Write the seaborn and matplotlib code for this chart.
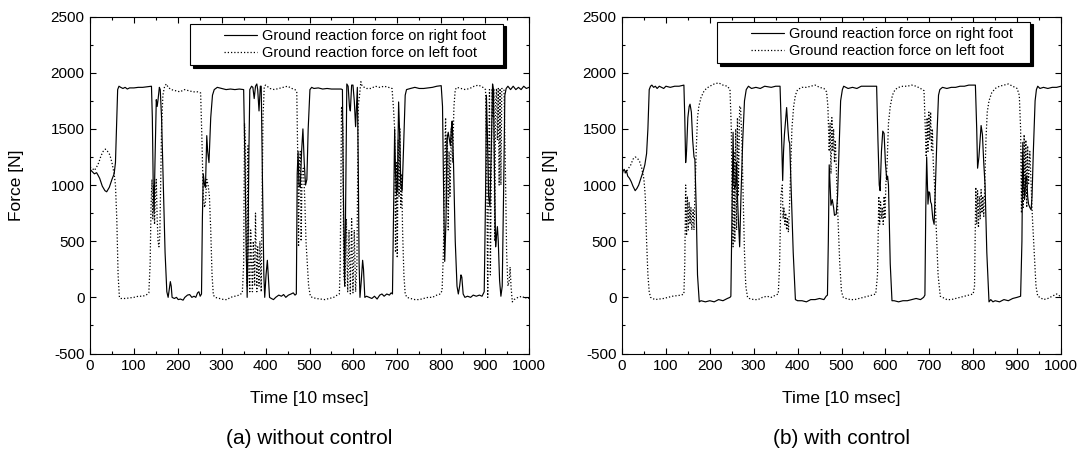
import numpy as np
import pandas as pd
import matplotlib
matplotlib.use("Agg")
import matplotlib.pyplot as plt
from matplotlib.lines import Line2D
from matplotlib.legend_handler import HandlerLine2D
from matplotlib.ticker import MultipleLocator
import seaborn as sns

# ---------------- data ----------------
# (a) without control - right foot (solid)
a_right_t = [0, 5, 10, 15, 18, 22, 28, 34, 38, 44, 50, 55, 58, 61, 63, 66, 70, 75, 80, 85, 90, 100, 110, 120, 130, 140,
             142, 144, 146, 148, 151, 153, 155, 158, 160, 163, 167, 171, 175, 178, 181, 183, 185, 187, 192, 197, 201,
             206, 212, 216, 222, 227, 232, 237, 241, 245, 248, 251, 254, 256, 258, 261, 263, 266, 268, 271, 275, 279,
             283, 290, 300, 310, 320, 330, 340, 350, 353, 356, 358, 360, 362, 364, 368, 371, 374, 377, 380, 382, 385,
             388, 390, 393, 396, 398, 401, 404, 406, 409, 413, 418, 423, 430, 436, 441, 446, 452, 458, 463, 467, 470,
             472, 474, 476, 479, 482, 485, 488, 491, 494, 497, 501, 505, 510, 520, 530, 540, 550, 560, 572, 575, 577,
             580, 582, 585, 588, 591, 593, 596, 599, 602, 605, 607, 609, 611, 613, 615, 618, 621, 623, 626, 630, 636,
             642, 648, 654, 660, 665, 670, 676, 682, 686, 689, 691, 694, 696, 698, 700, 703, 705, 708, 711, 714, 718,
             721, 730, 740, 750, 760, 770, 780, 790, 800, 803, 806, 808, 811, 813, 816, 819, 821, 823, 825, 828, 832,
             836, 839, 842, 845, 847, 850, 854, 860, 867, 873, 880, 887, 893, 898, 901, 903, 905, 908, 911, 914, 917,
             919, 922, 924, 926, 928, 930, 933, 936, 939, 942, 945, 948, 952, 958, 964, 970, 976, 982, 988, 994, 1000]
a_right_f = [1140, 1120, 1100, 1110, 1090, 1060, 990, 950, 940, 980, 1050, 1100, 1200, 1600, 1850, 1880, 1870, 1860,
             1870, 1855, 1865, 1865, 1870, 1870, 1875, 1880,
             1600, 1000, 760, 1200, 1760, 1700, 1760, 1870, 1850, 1600, 1000, 400, 50, 0, 80, 140, 100, 0, -10, 0, -20,
             -15, -25, 0, 20, 25, 0, 10, 0, 40, 50, 10, 30, 700, 1100, 1000, 980, 1440, 1300, 1200, 1600, 1800,
             1850, 1870, 1860, 1850, 1855, 1850, 1855, 1850, 1200, 400, 0, 500, 1300, 1850, 1880, 1870, 1770, 1880,
             1900, 1850, 1660,
             1880, 1880, 1000, 200, 0, 200, 330, 200, 0, -10, -20, 0, 20, 10, 25, 0, 20, 30, 40, 20, 30,
             1100, 1300, 1000, 980, 1300, 1500, 1200, 1000, 1050, 1500, 1850, 1870, 1860, 1865, 1855, 1860, 1855, 1855,
             1855, 1850, 1000,
             100, 700, 1900, 1880, 1700, 1660, 1890, 1890, 1750, 1520, 1700, 1870, 1200, 300, 0, 150, 330, 250, 0, 10,
             0,
             -10, 10, -15, 20, 30, 10, 30, 20, 40, 30, 600, 1500, 1100, 920, 950, 1740, 1500, 1000, 950, 1300, 1800,
             1850, 1860, 1870, 1860, 1860, 1865, 1870, 1880, 1885, 1700, 800, 320, 700, 1400, 1470, 1400, 1350, 1500,
             1570, 1200, 500,
             100, 30, 100, 200, 180, 30, 0, 10, 0, 20, 10, 20, 10, 50, 900, 1800, 1500, 900, 810, 1300, 1900,
             1850, 900, 450, 550, 630, 500, 150, 10, 100, 900, 1800, 1860, 1880, 1850, 1880, 1850, 1870, 1850, 1880,
             1860, 1870]

# (a) without control - left foot (dotted)
a_left_t = [0, 5, 10, 15, 20, 25, 30, 35, 40, 45, 50, 55, 58, 61, 64, 67, 70, 80, 90, 100, 110, 120, 128, 134, 137, 139,
            141, 143, 145, 147, 149, 151, 153, 155, 157, 159, 161, 163, 166, 170, 174, 178, 185, 195, 205, 215, 225,
            235, 245, 252, 255, 258, 261, 263, 266, 269, 272, 275, 278, 281, 285, 295, 305, 312, 320, 330, 340, 347,
            350, 352, 354, 356, 358, 360, 362, 364, 366, 368, 370, 372, 375, 377, 380, 382, 385, 387, 390, 392, 394,
            397, 400, 410, 420, 430, 440, 450, 460, 467, 471, 473, 475, 477, 479, 481, 483, 486, 489, 492, 495, 498,
            502, 506, 515, 525, 535, 545, 555, 563, 568, 570, 573, 576, 578, 581, 584, 587, 590, 593, 596, 599, 602,
            605, 608, 611, 614, 617, 620, 630, 640, 650, 660, 670, 680, 688, 691, 694, 696, 698, 700, 702, 704, 706,
            708, 710, 712, 715, 718, 722, 730, 740, 750, 760, 770, 780, 790, 798, 802, 805, 808, 810, 812, 814, 816,
            818, 820, 823, 826, 829, 832, 836, 845, 855, 865, 875, 885, 895, 901, 904, 906, 908, 910, 912, 914, 916,
            918, 920, 922, 924, 926, 928, 930, 932, 934, 936, 938, 940, 943, 946, 949, 952, 955, 957, 959, 962, 966,
            975, 985, 990, 995, 1000]
a_left_f = [1160, 1150, 1130, 1160, 1200, 1260, 1300, 1320, 1300, 1270, 1200, 1100, 1000, 700, 200, 0, -10, -10, -5, 0,
            10, 10, 20, 40, 300, 800,
            1050, 700, 1000, 650, 900, 1050, 700, 500, 450, 550, 1000, 1500, 1800, 1880, 1900, 1870, 1850, 1840, 1830,
            1850, 1840,
            1830, 1830, 1820, 1400, 900, 800, 850, 1050, 1000, 900, 600, 200, 20, 0, -10, -20, -20, 0, 10, 20, 40,
            300, 1550, 1400, 400, 100, 1350, 200, 50, 600, 300, 50, 500, 100, 750, 50, 450, 100, 500, 50, 800, 1600,
            1880, 1890, 1860, 1850, 1860, 1870, 1880, 1860, 1850, 1830, 1300, 450, 1200, 1300, 500, 1100, 1150, 900,
            500, 300, 100,
            10, 0, -10, -15, -20, -10, 0, 20, 30, 300, 1700, 1500, 200, 100, 700, 50, 600, 30, 700, 40, 600,
            50, 300, 1700, 1800, 1920, 1880, 1860, 1860, 1880, 1870, 1880, 1870, 1860, 1700, 1500, 400, 1200, 350,
            1400, 900, 1500,
            800, 1100, 600, 200, 30, 0, -10, -20, -20, -10, 0, 0, 20, 30, 60, 400, 1200, 1600, 800, 1450, 600,
            1300, 900, 1500, 1200, 1700, 1850, 1870, 1860, 1850, 1860, 1880, 1890, 1870, 1850, 1000, 0, 1200, 1850,
            200, 1000, 1860,
            1600, 1860, 500, 1750, 1860, 1400, 1860, 1000, 1860, 1000, 1860, 1860, 1850, 1200, 400, 100, 150, 270,
            100, -40, -20,
            0, 10, -10, 0, -10]

# (b) with control - right foot (solid)
b_right_t = [0, 3, 5, 8, 10, 13, 17, 21, 25, 30, 34, 38, 43, 48, 52, 56, 59, 62, 65, 68, 72, 76, 80, 85, 90, 95, 100, 110,
             120, 130, 141, 143, 145, 147, 150, 153, 155, 158, 161, 164, 166, 169, 172, 176, 180, 190, 200, 210, 220,
             230, 240, 246, 248, 250, 253, 255, 257, 259, 261, 263, 265, 268, 271, 275, 279, 283, 288, 295, 305, 315,
             325, 340, 350, 360, 363, 366, 368, 370, 373, 375, 378, 380, 382, 385, 390, 395, 400, 410, 420, 430, 440,
             450, 460, 465, 468, 470, 472, 474, 476, 479, 482, 484, 488, 491, 495, 498, 502, 505, 515, 525, 535, 545,
             560, 575, 580, 583, 586, 588, 591, 594, 597, 600, 603, 605, 607, 611, 615, 620, 630, 640, 650, 660, 670,
             680, 687, 690, 692, 694, 697, 699, 701, 703, 705, 708, 711, 714, 718, 721, 724, 730, 740, 750, 760, 770,
             780, 790, 805, 808, 810, 813, 816, 818, 821, 824, 827, 831, 836, 840, 845, 850, 860, 870, 880, 890, 900,
             908, 911, 913, 915, 917, 920, 922, 924, 926, 929, 932, 934, 937, 941, 944, 947, 952, 960, 970, 980, 990,
             1000]
b_right_f = [1100, 1130, 1140, 1110, 1130, 1080, 1060, 1030, 990, 950, 970, 1000, 1060, 1120, 1180, 1280, 1500, 1850,
             1880, 1890, 1870, 1880, 1860, 1880, 1870, 1860, 1880, 1870,
             1880, 1880, 1890, 1600, 1200, 1300, 1600, 1700, 1720, 1650, 1400, 1250, 1230, 800, 200, -40, -30, -40,
             -30, -40, -20,
             -30, -10, 0, 10, 600, 1470, 1000, 970, 1000, 1200, 900, 700, 450, 900, 1400, 1750, 1850, 1880, 1860,
             1870, 1860,
             1880, 1870, 1880, 1880, 1500, 1040, 1300, 1450, 1600, 1690, 1500, 1400, 1370, 1000, 400, -20, -30, -30,
             -40, -20, -20,
             -10, -20, 10, 20, 500, 1180, 1000, 820, 870, 800, 730, 740, 900, 1400, 1750, 1850, 1880, 1860, 1870,
             1860, 1880,
             1880, 1880, 1880, 1400, 1000, 950, 1300, 1480, 1460, 1200, 1050, 1080, 1000, 300, -30, -30, -40, -30,
             -30, -20, -10,
             -20, 0, 20, 800, 1250, 830, 940, 930, 850, 830, 700, 650, 1000, 1500, 1800, 1850, 1870, 1860, 1870,
             1870, 1880,
             1880, 1890, 1890, 1500, 1150, 1250, 1420, 1530, 1450, 1200, 1000, 400, -40, -20, -40, -30, -40, -20,
             -30, -10, 0,
             10, 500, 1380, 1000, 870, 1080, 1080, 900, 830, 800, 780, 900, 1300, 1750, 1850, 1880, 1860, 1870, 1860,
             1870, 1870,
             1880]

# (b) with control - left foot (dotted)
b_left_t = [0, 5, 10, 15, 20, 25, 30, 35, 40, 45, 50, 53, 56, 59, 62, 65, 70, 75, 85, 95, 105, 115, 125, 135, 141, 143,
            145, 147, 149, 151, 153, 155, 157, 159, 162, 164, 166, 169, 172, 175, 180, 186, 192, 200, 210, 220, 230,
            240, 246, 249, 251, 253, 255, 257, 259, 261, 263, 265, 268, 270, 273, 276, 279, 282, 286, 290, 300, 310,
            320, 330, 340, 350, 356, 359, 362, 365, 367, 369, 371, 373, 375, 377, 379, 381, 384, 387, 391, 395, 400,
            410, 420, 430, 440, 450, 460, 466, 469, 472, 474, 476, 478, 480, 482, 484, 486, 489, 492, 496, 500, 504,
            510, 520, 530, 540, 550, 560, 570, 578, 582, 585, 587, 589, 591, 593, 595, 597, 599, 601, 604, 607, 611,
            616, 622, 630, 640, 650, 660, 670, 680, 688, 691, 693, 695, 697, 699, 701, 703, 705, 707, 709, 712, 716,
            720, 725, 730, 740, 750, 760, 770, 780, 790, 800, 803, 806, 808, 810, 812, 814, 816, 818, 820, 822, 824,
            826, 829, 832, 836, 842, 850, 860, 870, 880, 890, 900, 905, 908, 910, 912, 914, 916, 918, 920, 922, 924,
            926, 929, 932, 935, 939, 943, 947, 952, 960, 970, 980, 990, 995, 1000]
b_left_f = [1110, 1100, 1120, 1150, 1180, 1230, 1250, 1240, 1210, 1150, 1050, 900, 500, 200, 50, 0, -10, -20, -15, -10,
            0, 10, 15, 20, 30, 300,
            1000, 550, 900, 600, 850, 650, 800, 600, 780, 600, 900, 1300, 1600, 1700, 1780, 1830, 1860, 1880, 1900,
            1910, 1890,
            1880, 1850, 1500, 800, 450, 1300, 500, 1500, 600, 1600, 900, 1700, 1700, 1400, 900, 400, 100, 0, -10, -20,
            -20,
            0, 10, 0, 20, 30, 300, 900, 1000, 700, 800, 650, 750, 600, 700, 580, 750, 1100, 1500, 1700, 1800, 1850,
            1870, 1870, 1880, 1890, 1870, 1860, 1830, 1700, 1300, 1550, 1100, 1600, 1300, 1500, 1200, 1400, 1050,
            700, 300, 50, 0,
            -10, -20, -20, -10, 0, 10, 20, 30, 200, 900, 650, 850, 700, 800, 650, 900, 700, 1000, 1200, 1550, 1700,
            1800, 1850, 1870, 1880, 1880, 1890, 1880, 1860, 1840, 1500, 1250, 1600, 1300, 1650, 1400, 1650, 1300,
            1500, 1200, 1000, 600,
            200, 10, 0, -20, -20, -10, 0, 10, 20, 30, 100, 980, 650, 950, 620, 900, 700, 960, 750, 900, 720,
            950, 1400, 1650, 1750, 1820, 1860, 1880, 1890, 1900, 1880, 1860, 1800, 1500, 750, 1300, 800, 1450, 900,
            1400, 800, 1350,
            1000, 1300, 1000, 700, 400, 100, 10, 0, -20, -10, 10, 30, 20, 0]

series_labels = ["Ground reaction force on right foot", "Ground reaction force on left foot"]
panel_titles = ["(a) without control", "(b) with control"]
x_label = "Time [10 msec]"
y_label = "Force [N]"

# ---------------- styling ----------------
sns.set_style("ticks")
plt.rcParams["font.family"] = ["Liberation Sans", "DejaVu Sans"]
plt.rcParams["axes.linewidth"] = 0.8
plt.rcParams["axes.unicode_minus"] = False
plt.rcParams["text.color"] = "black"
plt.rcParams["axes.labelcolor"] = "black"
plt.rcParams["xtick.color"] = "black"
plt.rcParams["ytick.color"] = "black"
plt.rcParams["axes.edgecolor"] = "black"

W, H = 1084, 453
fig = plt.figure(figsize=(W / 100, H / 100), dpi=100)

ax_left_px = [90, 622]
ax_w_px = 439
ax_top_px, ax_bot_px = 16.6, 353.5

panels = [
    (a_right_t, a_right_f, a_left_t, a_left_f, (26, 7)),
    (b_right_t, b_right_f, b_left_t, b_left_f, (31, 5)),
]

for i, (rt, rf, lt, lf, (lg_dx, lg_dy)) in enumerate(panels):
    x0 = ax_left_px[i]
    ax = fig.add_axes([x0 / W, 1 - ax_bot_px / H, ax_w_px / W, (ax_bot_px - ax_top_px) / H])
    df_r = pd.DataFrame({"t": rt, "F": rf})
    df_l = pd.DataFrame({"t": lt, "F": lf})
    sns.lineplot(data=df_r, x="t", y="F", ax=ax, color="black", linewidth=0.85,
                 estimator=None, sort=False, label=series_labels[0])
    sns.lineplot(data=df_l, x="t", y="F", ax=ax, color="black", linewidth=0.9,
                 linestyle=(0, (1.0, 1.6)), estimator=None, sort=False, label=series_labels[1])

    ax.set_xlim(0, 1000)
    ax.set_ylim(-500, 2500)
    ax.xaxis.set_major_locator(MultipleLocator(100))
    ax.xaxis.set_minor_locator(MultipleLocator(50))
    ax.yaxis.set_major_locator(MultipleLocator(500))
    ax.yaxis.set_minor_locator(MultipleLocator(250))
    ax.tick_params(which="both", direction="in", top=True, right=True, width=0.8, colors="black",
                   labelsize=11, pad=4)
    ax.tick_params(which="major", length=4.5)
    ax.tick_params(which="minor", length=2.5)
    for s in ax.spines.values():
        s.set_visible(True)
        s.set_color("black")

    ax.set_xlabel(x_label, fontsize=12.5)
    ax.set_ylabel(y_label, fontsize=12.5)
    ax.xaxis.label.set_va("center")
    ax.yaxis.label.set_va("center")
    ah = ax_bot_px - ax_top_px
    ax.xaxis.set_label_coords(0.5, -(398 - ax_bot_px) / ah)
    ylab_x = 17 if i == 0 else 550
    ax.yaxis.set_label_coords(-(x0 - ylab_x) / ax_w_px, 0.5)

    handles = ax.get_lines()[:2]
    leg = ax.legend(handles=handles, labels=[s + "   " for s in series_labels], loc="upper right",
                    bbox_to_anchor=(1 - lg_dx / ax_w_px, 1 - lg_dy / ah), borderaxespad=0,
                    fontsize=10.5, frameon=True, fancybox=False, edgecolor="black",
                    framealpha=1, handlelength=4.25, handletextpad=0.3, borderpad=0.35,
                    labelspacing=0.25,
                    shadow={"color": "black", "alpha": 1.0},
                    handler_map={Line2D: HandlerLine2D(xpad=2.0)})
    leg.get_frame().set_linewidth(0.8)

    fig.text((x0 + ax_w_px / 2) / W, 1 - 438 / H, panel_titles[i], ha="center", va="center", fontsize=15)

fig.savefig("out.png", dpi=100)
